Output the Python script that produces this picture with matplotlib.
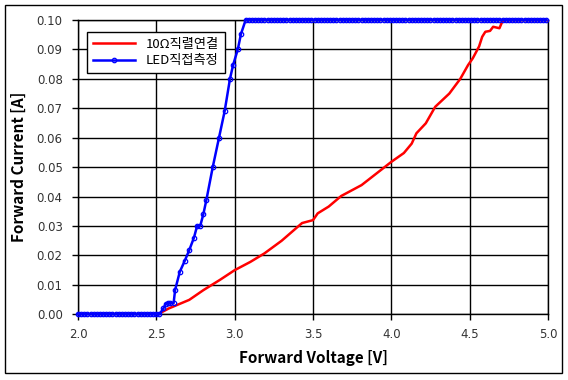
import numpy as np
import matplotlib.pyplot as plt
from matplotlib.patches import Rectangle

plt.rcParams['font.family'] = ['DejaVu Sans', 'Noto Sans CJK KR']

# 10 ohm series resistor (red)
red_v = [2.00, 2.50, 2.52, 2.58, 2.71, 2.80, 2.906, 3.00, 3.10, 3.19, 3.30, 3.43, 3.50,
         3.53, 3.60, 3.68, 3.81, 3.94, 4.00, 4.08, 4.13, 4.16, 4.22, 4.28, 4.37, 4.44,
         4.49, 4.52, 4.56, 4.58, 4.60, 4.63, 4.65, 4.69, 4.71, 4.73, 5.00]
red_i = [0.0, 0.0, 0.0003, 0.002, 0.0049, 0.0082, 0.0117, 0.0150, 0.0178, 0.0207, 0.0250,
         0.0310, 0.0320, 0.0343, 0.0366, 0.0402, 0.0439, 0.0493, 0.0518, 0.0548, 0.0580,
         0.0615, 0.0649, 0.0705, 0.0750, 0.0800, 0.0847, 0.0870, 0.0910, 0.0943, 0.0960,
         0.0963, 0.0977, 0.0972, 0.0997, 0.1000, 0.1000]

# LED direct measurement (blue), sweep in 0.02 V steps
blue_v_low = np.round(np.arange(2.00, 2.53, 0.02), 2)
blue_i_low = np.zeros(len(blue_v_low))
blue_v_rise = [2.545, 2.56, 2.577, 2.59, 2.61, 2.62, 2.65, 2.68, 2.71, 2.74, 2.76, 2.78,
               2.80, 2.82, 2.86, 2.90, 2.936, 2.97, 2.99, 3.02, 3.04, 3.07]
blue_i_rise = [0.002, 0.0035, 0.0037, 0.0038, 0.0037, 0.0083, 0.0145, 0.018, 0.0218, 0.026,
               0.030, 0.030, 0.034, 0.039, 0.050, 0.060, 0.069, 0.080, 0.0847, 0.090,
               0.0952, 0.100]
blue_v_high = np.round(np.arange(3.09, 5.001, 0.02), 2)
blue_i_high = np.full(len(blue_v_high), 0.1)

blue_v = np.concatenate([blue_v_low, blue_v_rise, blue_v_high])
blue_i = np.concatenate([blue_i_low, blue_i_rise, blue_i_high])

fig = plt.figure(figsize=(5.68, 3.80), dpi=100)
ax = fig.add_axes([78 / 568, 1 - 314.3 / 380, 470 / 568, 294.3 / 380])

ax.plot(red_v, red_i, color='#ff0000', lw=1.8, label='10Ω직렬연결', zorder=3)
ax.plot(blue_v, blue_i, color='#0000ff', lw=1.8, marker='o', ms=3.2, mfc='none',
        mew=0.9, label='LED직접측정', zorder=4, clip_on=False)

ax.set_xlim(2.0, 5.0)
ax.set_ylim(0.0, 0.10)
ax.set_xticks([2.0, 2.5, 3.0, 3.5, 4.0, 4.5, 5.0])
ax.set_yticks(np.round(np.arange(0, 0.101, 0.01), 2))
ax.set_xticklabels([f'{t:.1f}' for t in ax.get_xticks()])
ax.set_yticklabels([f'{t:.2f}' for t in ax.get_yticks()])
ax.grid(True, color='black', lw=1)
ax.set_axisbelow(True)
for s in ax.spines.values():
    s.set_color('black')
    s.set_linewidth(1)
ax.tick_params(direction='out', length=4, width=1, labelsize=8.5, colors='black',
               labelcolor='#333333')
ax.tick_params(axis='x', pad=6)
ax.tick_params(axis='y', pad=7)

lab_font = dict(family=['Noto Sans CJK KR', 'DejaVu Sans'], fontsize=11, weight='bold')
ax.set_xlabel('Forward Voltage [V]', labelpad=6, **lab_font)
ax.set_ylabel('Forward Current [A]', labelpad=7, **lab_font)

leg = ax.legend(loc='upper left', bbox_to_anchor=(0.019, 0.959), borderaxespad=0,
                prop=dict(family=['Noto Sans CJK KR', 'DejaVu Sans'], size=9.5),
                frameon=True, fancybox=False, handlelength=3.2,
                edgecolor='black', framealpha=1, borderpad=0.45, labelspacing=0.25)
leg.get_frame().set_linewidth(1)

fig.patches.append(Rectangle((5 / 568, 1 - 373 / 380), 557 / 568, 368 / 380,
                             transform=fig.transFigure, fill=False, edgecolor='black',
                             lw=1))

fig.savefig('out.png', dpi=100)
